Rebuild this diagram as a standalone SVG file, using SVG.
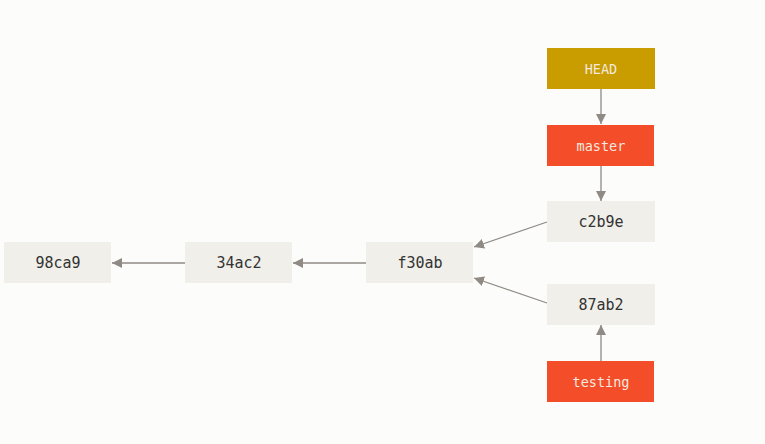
<svg xmlns="http://www.w3.org/2000/svg" width="765" height="444" viewBox="0 0 765 444">
<defs>
<style>
.commit rect{fill:#f0efe9}
.commit text{font-family:"DejaVu Sans Mono","Liberation Mono",monospace;font-size:15px;fill:#333;text-anchor:middle;dominant-baseline:central}
.ref text{font-family:"DejaVu Sans Mono","Liberation Mono",monospace;font-size:13.5px;fill:#f3e9de;text-anchor:middle;dominant-baseline:central}
.branch rect{fill:#f44d2a}
.head rect{fill:#c99c00}
#connectors line{stroke:#8f8a84;stroke-width:1.3;fill:none;marker-end:url(#arr)}
</style>
<marker id="arr" viewBox="0 0 10 10" refX="10" refY="5" markerWidth="10" markerHeight="10" markerUnits="userSpaceOnUse" orient="auto">
<path d="M0,0 L10,5 L0,10 z" fill="#8f8a84"/>
</marker>
</defs>
<rect width="765" height="444" fill="#fcfcfa"/>
<g id="connectors">
<line x1="601" y1="89" x2="601" y2="124"/>
<line x1="601" y1="166" x2="601" y2="201"/>
<line x1="601" y1="361" x2="601" y2="325"/>
<line x1="547" y1="222" x2="474" y2="247"/>
<line x1="547" y1="303" x2="474" y2="278"/>
<line x1="366" y1="263" x2="293" y2="263"/>
<line x1="185" y1="263" x2="112" y2="263"/>
</g>
<g id="HEAD" class="ref head"><rect x="547" y="48" width="108" height="41"/><text x="601" y="69">HEAD</text></g>
<g id="master" class="ref branch"><rect x="547" y="125" width="107" height="41"/><text x="601" y="146">master</text></g>
<g id="c2b9e" class="commit"><rect x="547" y="201" width="108" height="41"/><text x="601" y="222">c2b9e</text></g>
<g id="87ab2" class="commit"><rect x="547" y="284" width="108" height="41"/><text x="601" y="305">87ab2</text></g>
<g id="testing" class="ref branch"><rect x="547" y="361" width="107" height="41"/><text x="601" y="382">testing</text></g>
<g id="f30ab" class="commit"><rect x="366" y="242" width="107" height="41"/><text x="420" y="263">f30ab</text></g>
<g id="34ac2" class="commit"><rect x="185" y="242" width="107" height="41"/><text x="239" y="263">34ac2</text></g>
<g id="98ca9" class="commit"><rect x="4" y="242" width="107" height="41"/><text x="58" y="263">98ca9</text></g>
</svg>
